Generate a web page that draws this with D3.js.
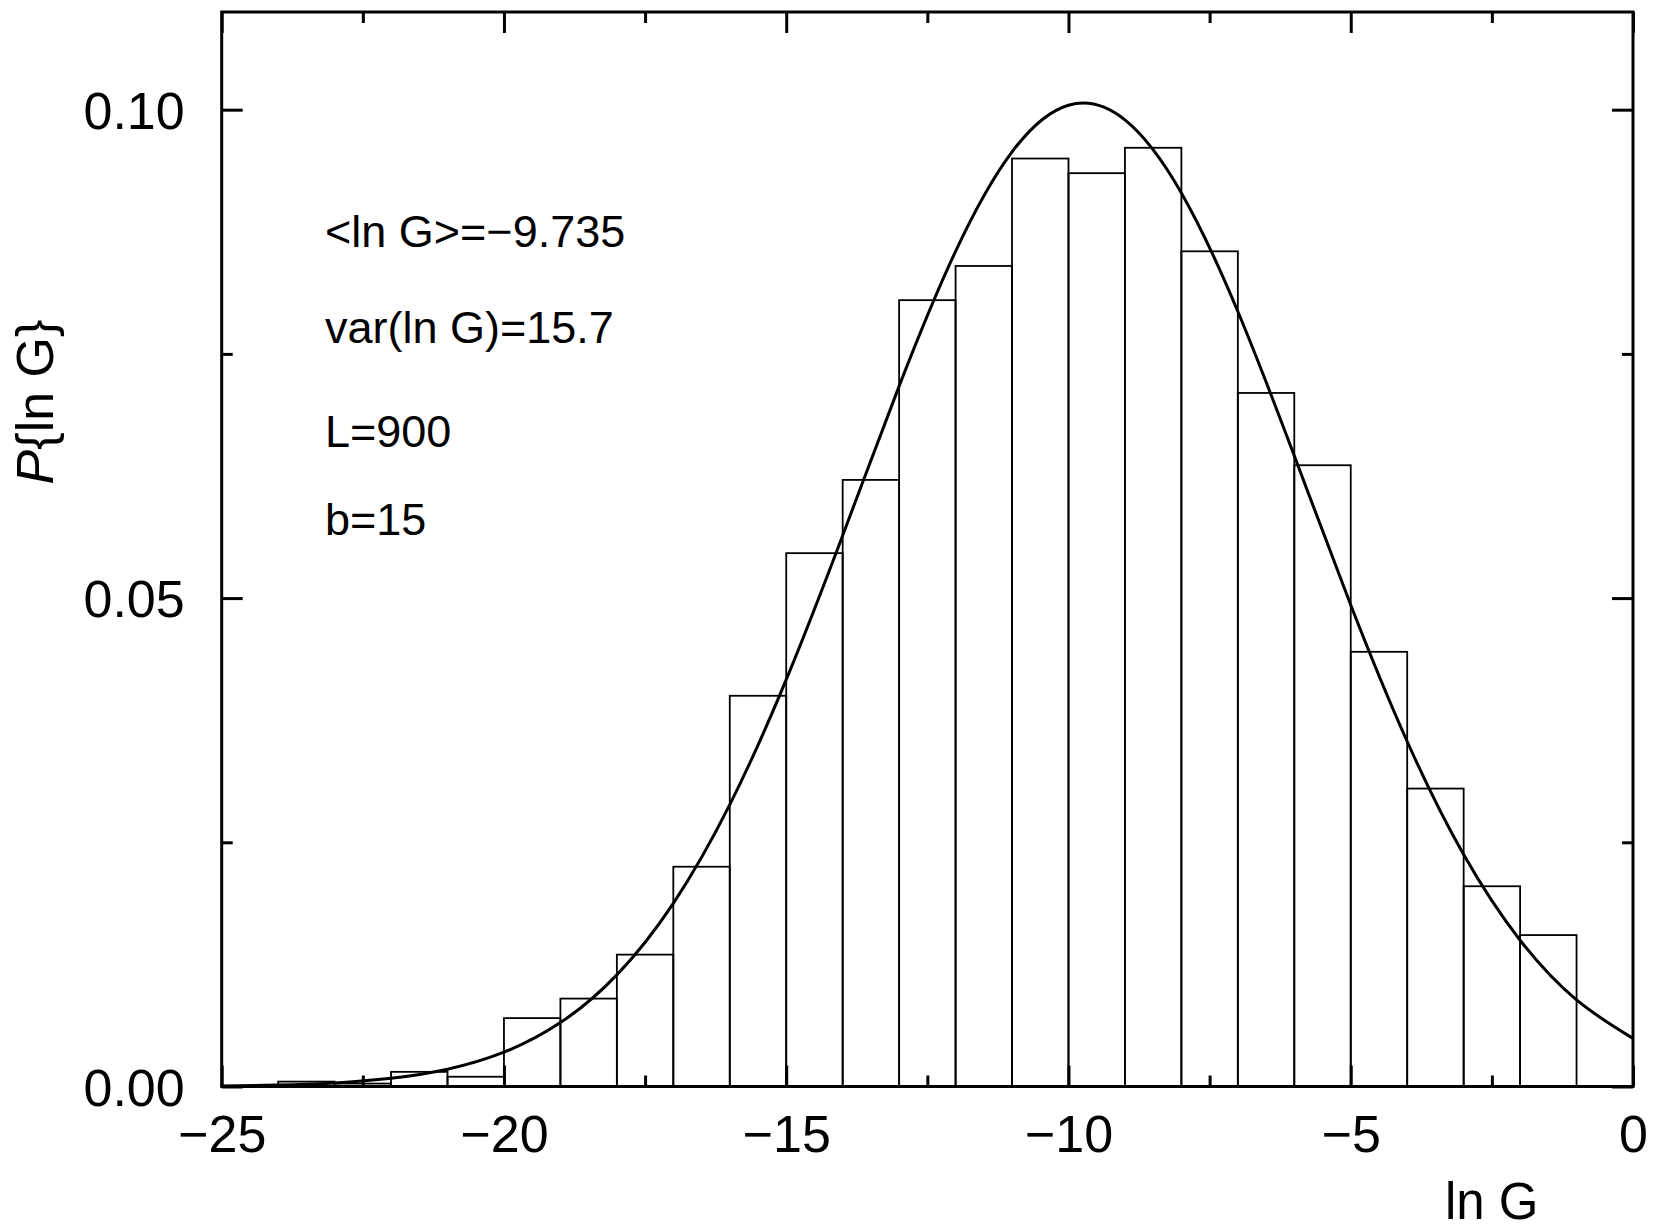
<!DOCTYPE html>
<html>
<head>
<meta charset="utf-8">
<script src="https://cdn.jsdelivr.net/npm/d3@7"></script>
<style>
  body { margin: 0; background: #fff; }
  text { font-family: "Liberation Sans", Arial, sans-serif; fill: #000; }
</style>
</head>
<body>
<div id="chart"></div>
<script>
// histogram bins: left edge of each 1-wide bin and its height
const binStart = [-24, -23, -22, -21, -20, -19, -18, -17, -16, -15, -14, -13,
                  -12, -11, -10, -9, -8, -7, -6, -5, -4, -3, -2];
const binValue = [0.0005, 0.0003, 0.0015, 0.0010, 0.0070, 0.0090, 0.0135, 0.0225,
                  0.0400, 0.0546, 0.0621, 0.0805, 0.0840, 0.0950, 0.0935, 0.0961,
                  0.0855, 0.0710, 0.0636, 0.0445, 0.0305, 0.0205, 0.0155];

// fitted curve, points
const curveX = [-25, -24, -23, -22, -21, -20, -19, -18, -17, -16, -15, -14, -13,
                -12, -11, -10, -9, -8, -7, -6, -5, -4, -3, -2, -1, 0];
const curveY = [0.00006, 0.00015, 0.00037, 0.00084, 0.00177, 0.00351, 0.00654,
                0.01143, 0.01875, 0.02885, 0.04165, 0.05641, 0.0717, 0.0855,
                0.09568, 0.10046, 0.09896, 0.09148, 0.07934, 0.06457, 0.0493,
                0.03532, 0.02374, 0.014975, 0.008866, 0.004923];

const xMajor = [-25, -20, -15, -10, -5, 0];
const xMinor = [-22.5, -17.5, -12.5, -7.5, -2.5];
const yMajor = [0, 0.05, 0.10];
const yMinor = [0.025, 0.075];

const notes = ["<ln G>=\u22129.735", "var(ln G)=15.7", "L=900", "b=15"];

const width = 1655, height = 1231;
const plotLeft = 221.7, plotRight = 1633, plotTop = 12, plotBottom = 1086.5;

const svg = d3.select("#chart").append("svg")
  .attr("width", width)
  .attr("height", height);

const x = d3.scaleLinear().domain([-25, 0]).range([plotLeft, plotRight]);
const y = d3.scaleLinear().domain([0, 0.11]).range([plotBottom, plotTop]);

// --- BARS ---
svg.append("g")
  .selectAll("rect")
  .data(binStart.map((s, i) => ({ s: s, v: binValue[i] })))
  .enter()
  .append("rect")
  .attr("x", d => x(d.s))
  .attr("y", d => y(d.v))
  .attr("width", d => x(d.s + 1) - x(d.s))
  .attr("height", d => y(0) - y(d.v))
  .attr("fill", "none")
  .attr("stroke", "#000")
  .attr("stroke-width", 1.8);

// --- CURVE ---
const line = d3.line()
  .x(d => x(d[0]))
  .y(d => y(d[1]))
  .curve(d3.curveNatural);

svg.append("path")
  .datum(curveX.map((v, i) => [v, curveY[i]]))
  .attr("d", line)
  .attr("fill", "none")
  .attr("stroke", "#000")
  .attr("stroke-width", 3);

// --- AXES (ticks point inward on all four sides) ---
function addAxis(axis, transform, vals, size, labels) {
  const g = svg.append("g")
    .attr("transform", transform)
    .call(axis.tickValues(vals).tickSizeInner(size).tickSizeOuter(0));
  g.select(".domain").remove();
  g.selectAll("line").attr("stroke", "#000").attr("stroke-width", 3);
  if (!labels) g.selectAll("text").remove();
  return g;
}

const gx = addAxis(d3.axisBottom(x).tickFormat(d3.format("d")),
  `translate(0,${plotBottom})`, xMajor, -21, true);
gx.selectAll("text")
  .attr("y", 65.5)
  .attr("dy", null)
  .style("font-size", "52px")
  .style("font-family", "Liberation Sans, Arial, sans-serif");
addAxis(d3.axisBottom(x), `translate(0,${plotBottom})`, xMinor, -11, false);
addAxis(d3.axisTop(x), `translate(0,${plotTop})`, xMajor, -21, false);
addAxis(d3.axisTop(x), `translate(0,${plotTop})`, xMinor, -11, false);

const gy = addAxis(d3.axisLeft(y).tickFormat(d3.format(".2f")),
  `translate(${plotLeft},0)`, yMajor, -21, true);
gy.selectAll("text")
  .attr("x", -37)
  .attr("dy", "0.36em")
  .style("font-size", "52px")
  .style("font-family", "Liberation Sans, Arial, sans-serif");
addAxis(d3.axisLeft(y), `translate(${plotLeft},0)`, yMinor, -11, false);
addAxis(d3.axisRight(y), `translate(${plotRight},0)`, yMajor, -21, false);
addAxis(d3.axisRight(y), `translate(${plotRight},0)`, yMinor, -11, false);

// frame
svg.append("rect")
  .attr("x", plotLeft)
  .attr("y", plotTop)
  .attr("width", plotRight - plotLeft)
  .attr("height", plotBottom - plotTop)
  .attr("fill", "none")
  .attr("stroke", "#000")
  .attr("stroke-width", 3);

// --- ANNOTATIONS ---
const noteY = [247, 343, 447, 535];
svg.append("g")
  .selectAll("text")
  .data(notes)
  .enter()
  .append("text")
  .attr("x", 325)
  .attr("y", (d, i) => noteY[i])
  .style("font-size", "45px")
  .text(d => d);

// --- AXIS LABELS ---
svg.append("text")
  .attr("x", 1445)
  .attr("y", 1219)
  .style("font-size", "51px")
  .text("ln G");

const yl = svg.append("text")
  .attr("transform", "translate(53,402) rotate(-90)")
  .attr("text-anchor", "middle")
  .style("font-size", "52px");
yl.append("tspan").style("font-style", "italic").text("P");
yl.append("tspan").text("{ln G}");
</script>
</body>
</html>
